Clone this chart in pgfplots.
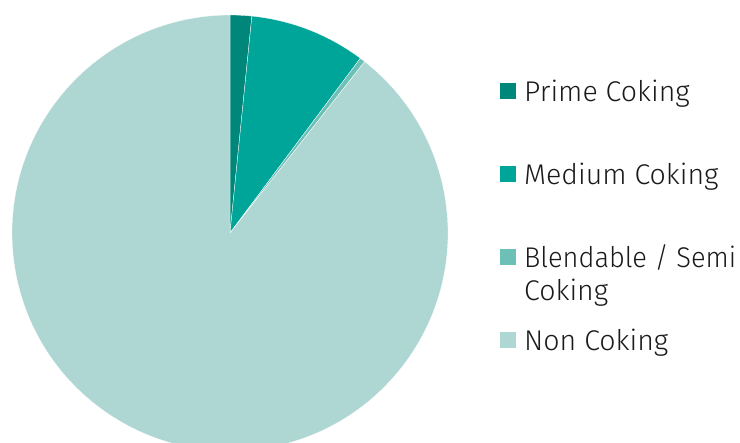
\documentclass[border=0pt]{standalone}
\usepackage{fontspec}
\setmainfont{Fira Sans Light}
\usepackage{graphicx}
\usepackage{pgfplots}
\pgfplotsset{compat=1.18}
\definecolor{cPrime}{HTML}{00877A}
\definecolor{cMedium}{HTML}{00A59A}
\definecolor{cBlend}{HTML}{6CC0B5}
\definecolor{cNon}{HTML}{AED6D3}
\definecolor{cText}{HTML}{1A1A1A}
\begin{document}
\begin{tikzpicture}
\begin{axis}[
  width=740pt, height=443pt, scale only axis,
  xmin=0, xmax=740, ymin=0, ymax=443,
  hide axis, clip=true,
  legend style={at={(axis cs:500,364)}, anchor=north west, draw=none, fill=none,
    inner sep=0pt, row sep=59.5pt, column sep=8pt,
    nodes={inner sep=0pt},
    cells={anchor=base west, text height=22pt, text depth=7pt},
    font=\fontsize{28.5}{33}\selectfont, text=cText},
  legend image code/.code={\fill[#1, draw=none] (0pt,2pt) rectangle (16pt,18pt);},
]
% pie: shares in percent, clockwise from 12 o'clock; centre (230,210), radius 218
\fill[cPrime, draw=white, line width=0.3pt] (axis cs:230,210) -- ++(90:218pt)
  arc[start angle=90, delta angle={-3.6*1.6}, radius=218pt] -- cycle;
\fill[cMedium, draw=white, line width=0.3pt] (axis cs:230,210) -- ++({90-3.6*1.6}:218pt)
  arc[start angle={90-3.6*1.6}, delta angle={-3.6*8.6}, radius=218pt] -- cycle;
\fill[cBlend, draw=white, line width=0.3pt] (axis cs:230,210) -- ++({90-3.6*10.2}:218pt)
  arc[start angle={90-3.6*10.2}, delta angle={-3.6*0.4}, radius=218pt] -- cycle;
\fill[cNon, draw=white, line width=0.3pt] (axis cs:230,210) -- ++({90-3.6*10.6}:218pt)
  arc[start angle={90-3.6*10.6}, delta angle={-3.6*89.4}, radius=218pt] -- cycle;
\addlegendimage{fill=cPrime}
\addlegendentry{Prime Coking}
\addlegendimage{fill=cMedium}
\addlegendentry{Medium Coking}
\addlegendimage{fill=cBlend}
\addlegendentry{\raisebox{0pt}[\height][0pt]{\parbox[t]{214pt}{\raggedright \resizebox{212pt}{\height}{Blendable / Semi}\\Coking}}}
\addlegendimage{fill=cNon}
\addlegendentry{Non Coking}
\end{axis}
\pgfresetboundingbox
\path[use as bounding box] (0,0) rectangle (740pt,443pt);
\end{tikzpicture}
\end{document}
